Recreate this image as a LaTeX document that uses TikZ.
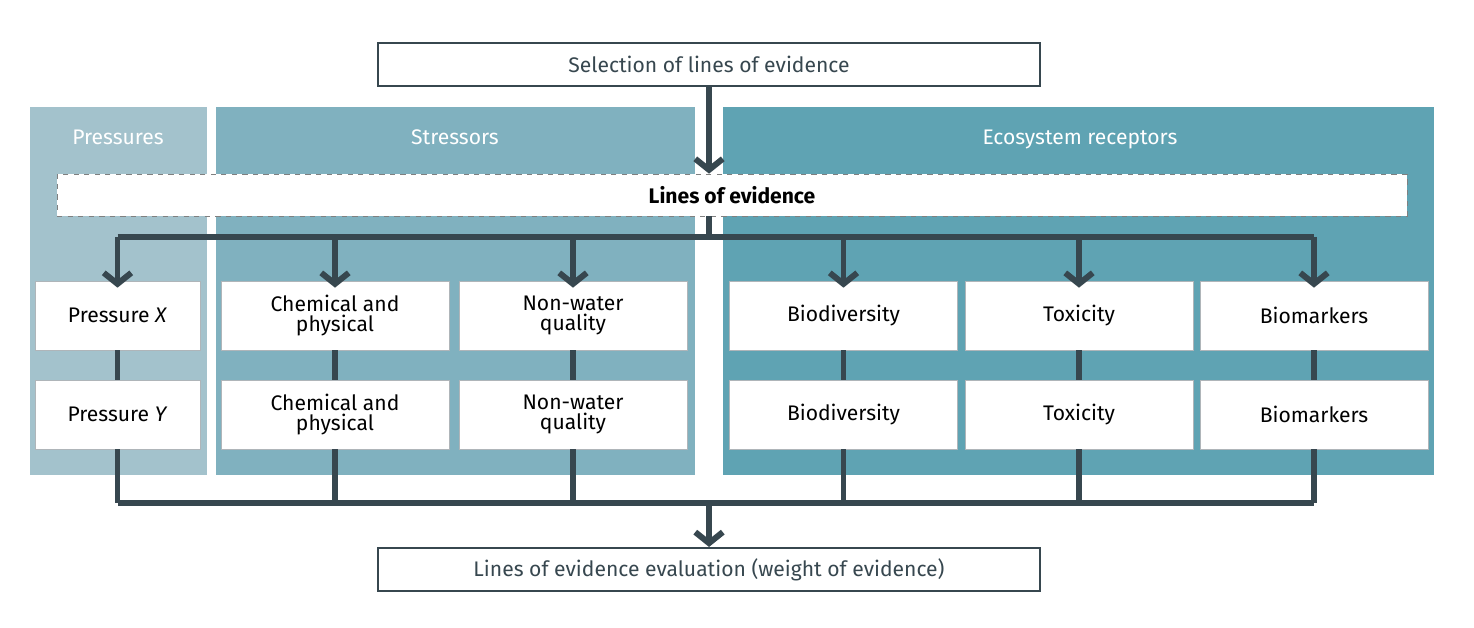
\documentclass[tikz,border=0pt]{standalone}
\usepackage{fontspec}
\setmainfont{Fira Sans}
\usetikzlibrary{arrows.meta, positioning, calc}
\definecolor{linegray}{HTML}{37474F}
\definecolor{presfill}{HTML}{A3C2CC}
\definecolor{strfill}{HTML}{80B1BF}
\definecolor{ecofill}{HTML}{5FA3B3}

\begin{document}
\begin{tikzpicture}[
    x=0.02cm, y=-0.02cm,
    panel/.style={draw=none},
    paneltitle/.style={text=white, font=\large},
    evbox/.style={rectangle, draw=linegray!40, fill=white, minimum width=4.56cm, minimum height=1.38cm, align=center, font=\large, text=black, inner sep=1pt},
    mainbox/.style={rectangle, draw=linegray, line width=1.2pt, fill=white, minimum width=13.24cm, minimum height=0.86cm, align=center, font=\large, text=linegray},
    conn/.style={draw=linegray, line width=3.4pt},
    arrow/.style={conn, -{Straight Barb[length=2.2mm, width=5.5mm]}}
]
    \useasboundingbox (0,0) rectangle (1474,628);
    % Panels
    \fill[presfill] (30,107) rectangle (207,475);
    \fill[strfill] (216,107) rectangle (695,475);
    \fill[ecofill] (723,107) rectangle (1434,475);
    \node[paneltitle] (tpres) at (118,137) {Pressures};
    \node[paneltitle] (tstr) at (455,137) {Stressors};
    \node[paneltitle] (teco) at (1080,139) {Ecosystem receptors};

    % Main boxes
    \node[mainbox] (select) at (709,64.5) {Selection of lines of evidence};
    \node[mainbox] (weight) at (709,569.5) {Lines of evidence evaluation (weight of evidence)};
    \node[rectangle, draw=gray, dashed, fill=white, minimum width=27cm, minimum height=0.84cm, font=\large\bfseries] (loe) at (732,195) {Lines of evidence};

    % Evidence boxes
    \node[evbox, minimum width=3.3cm] (px) at (117.5,315.5) {Pressure \textit{X}};
    \node[evbox, minimum width=3.3cm] (py) at (117.5,414.5) {Pressure \textit{Y}};
    \node[evbox] (chem1) at (335,315.5) {Chemical and\\[-3pt]physical};
    \node[evbox] (chem2) at (335,414.5) {Chemical and\\[-3pt]physical};
    \node[evbox] (nonw1) at (573,315.5) {Non-water\\[-3pt]quality};
    \node[evbox] (nonw2) at (573,414.5) {Non-water\\[-3pt]quality};
    \node[evbox] (bio1) at (843.5,315.5) {Biodiversity};
    \node[evbox] (bio2) at (843.5,414.5) {Biodiversity};
    \node[evbox] (tox1) at (1079,315.5) {Toxicity};
    \node[evbox] (tox2) at (1079,414.5) {Toxicity};
    \node[evbox] (bmk1) at (1314,315.5) {Biomarkers};
    \node[evbox] (bmk2) at (1314,414.5) {Biomarkers};

    % Buses
    \coordinate (topbus) at (709,237);
    \coordinate (botbus) at (709,503);
    \draw[arrow] (select) -- (loe.north -| select);
    \draw[conn] (loe.south -| topbus) -- (topbus);
    \draw[conn] (px.north |- topbus) -- (bmk1.north |- topbus);
    \draw[conn] (py.south |- botbus) -- (bmk2.south |- botbus);
    \draw[arrow] (botbus) -- (weight);

    % Drops, links and rises
    \draw[arrow] (px.north |- topbus) -- ([yshift=-4pt]px.north);
    \draw[arrow] (chem1.north |- topbus) -- ([yshift=-4pt]chem1.north);
    \draw[arrow] (nonw1.north |- topbus) -- ([yshift=-4pt]nonw1.north);
    \draw[arrow] (bio1.north |- topbus) -- ([yshift=-4pt]bio1.north);
    \draw[arrow] (tox1.north |- topbus) -- ([yshift=-4pt]tox1.north);
    \draw[arrow] (bmk1.north |- topbus) -- ([yshift=-4pt]bmk1.north);
    \draw[conn] (px) -- (py) (chem1) -- (chem2) (nonw1) -- (nonw2);
    \draw[conn] (bio1) -- (bio2) (tox1) -- (tox2) (bmk1) -- (bmk2);
    \draw[conn] (py.south) -- (py.south |- botbus);
    \draw[conn] (chem2.south) -- (chem2.south |- botbus);
    \draw[conn] (nonw2.south) -- (nonw2.south |- botbus);
    \draw[conn] (bio2.south) -- (bio2.south |- botbus);
    \draw[conn] (tox2.south) -- (tox2.south |- botbus);
    \draw[conn] (bmk2.south) -- (bmk2.south |- botbus);
\end{tikzpicture}
\end{document}
